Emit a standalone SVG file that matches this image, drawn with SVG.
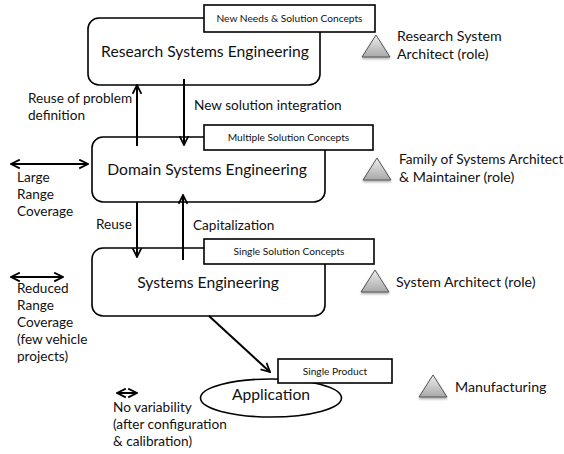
<svg xmlns="http://www.w3.org/2000/svg" width="564" height="454" viewBox="0 0 564 454">
  <defs>
    <style>
      text { font-family: Lato, "Liberation Sans", sans-serif; fill: #111; }
      .box { fill: #fff; stroke: #000; stroke-width: 1.6; }
      .lbl { fill: #fff; stroke: #000; stroke-width: 1.6; }
      .main { font-size: 15.7px; text-anchor: middle; }
      .small { font-size: 10.2px; text-anchor: middle; }
      .side { font-size: 13.6px; }
      .role { font-size: 14.2px; }
      .role-n { font-size: 13.7px; }
      .con { stroke: #000; stroke-width: 2; fill: none; }
      .tri { fill: url(#tg); stroke: #555; stroke-width: 1; filter: url(#sh); }
    </style>
    <linearGradient id="tg" x1="0" y1="0" x2="0" y2="1">
      <stop offset="0" stop-color="#eeeeee"/>
      <stop offset="1" stop-color="#a8a8a8"/>
    </linearGradient>
    <filter id="sh" x="-20%" y="-20%" width="140%" height="150%">
      <feDropShadow dx="0" dy="1.5" stdDeviation="1" flood-color="#000" flood-opacity="0.35"/>
    </filter>
    <marker id="ah" viewBox="0 0 10 10" refX="9" refY="5" markerWidth="5.5" markerHeight="5.5" orient="auto-start-reverse" markerUnits="strokeWidth">
      <path d="M1,1 L9,5 L1,9" fill="none" stroke="#000" stroke-width="1.6"/>
    </marker>
  </defs>

  <g id="research">
    <rect class="box" x="88" y="18" width="232" height="67" rx="11"/>
    <text class="main" x="205" y="57">Research Systems Engineering</text>
  </g>
  <g id="research-label">
    <rect class="lbl" x="204" y="5" width="171" height="27"/>
    <text class="small" x="289.5" y="22">New Needs &amp; Solution Concepts</text>
  </g>

  <g id="domain">
    <rect class="box" x="92" y="137" width="233" height="65" rx="11"/>
    <text class="main" x="207" y="175">Domain Systems Engineering</text>
  </g>
  <g id="domain-label">
    <rect class="lbl" x="204" y="125" width="169" height="25"/>
    <text class="small" x="288.5" y="141">Multiple Solution Concepts</text>
  </g>

  <g id="systems">
    <rect class="box" x="92" y="248" width="233" height="68" rx="11"/>
    <text class="main" x="208" y="288">Systems Engineering</text>
  </g>
  <g id="systems-label">
    <rect class="lbl" x="204" y="239" width="170" height="25"/>
    <text class="small" x="289" y="255">Single Solution Concepts</text>
  </g>

  <g id="application">
    <ellipse class="box" cx="271" cy="398" rx="70.5" ry="19"/>
    <text class="main" x="271" y="400">Application</text>
  </g>
  <g id="application-label">
    <rect class="lbl" x="278" y="359" width="114" height="24"/>
    <text class="small" x="335" y="375">Single Product</text>
  </g>

  <g id="connectors">
    <line class="con" x1="137" y1="146" x2="137" y2="85" marker-end="url(#ah)"/>
    <line class="con" x1="184" y1="79" x2="184" y2="145" marker-end="url(#ah)"/>
    <line class="con" x1="137" y1="202" x2="137" y2="257" marker-end="url(#ah)"/>
    <line class="con" x1="183" y1="260" x2="183" y2="195" marker-end="url(#ah)"/>
    <line class="con" x1="209" y1="316" x2="270" y2="372" marker-end="url(#ah)"/>
    <line class="con" x1="11" y1="164" x2="88" y2="164" marker-start="url(#ah)" marker-end="url(#ah)"/>
    <line class="con" x1="11" y1="277" x2="63" y2="277" marker-start="url(#ah)" marker-end="url(#ah)"/>
    <line class="con" x1="117" y1="393" x2="137" y2="393" marker-start="url(#ah)" marker-end="url(#ah)"/>
  </g>

  <g id="connector-labels">
    <text class="side" x="28" y="103">Reuse of problem</text>
    <text class="side" x="28" y="120">definition</text>
    <text class="side" x="194" y="110">New solution integration</text>
    <text class="side" x="96" y="229">Reuse</text>
    <text class="side" x="193" y="230">Capitalization</text>
  </g>

  <g id="range-labels">
    <text class="side" x="17" y="182">Large</text>
    <text class="side" x="17" y="199">Range</text>
    <text class="side" x="17" y="216">Coverage</text>
    <text class="side" x="17" y="293">Reduced</text>
    <text class="side" x="17" y="310">Range</text>
    <text class="side" x="17" y="327">Coverage</text>
    <text class="side" x="17" y="344">(few vehicle</text>
    <text class="side" x="17" y="361">projects)</text>
    <text class="side" x="113" y="412">No variability</text>
    <text class="side" x="113" y="429">(after configuration</text>
    <text class="side" x="113" y="446">&amp; calibration)</text>
  </g>

  <g id="role-research">
    <polygon class="tri" points="376,35 362,57 390,57"/>
    <text class="role" x="397" y="41">Research System</text>
    <text class="role" x="397" y="59">Architect (role)</text>
  </g>
  <g id="role-family">
    <polygon class="tri" points="377,158 363,180 391,180"/>
    <text class="role-n" x="399" y="164">Family of Systems Architect</text>
    <text class="role" x="399" y="182">&amp; Maintainer (role)</text>
  </g>
  <g id="role-system">
    <polygon class="tri" points="375,270 361,292 389,292"/>
    <text class="role" x="396" y="287">System Architect (role)</text>
  </g>
  <g id="role-manufacturing">
    <polygon class="tri" points="433,375 419,397 447,397"/>
    <text class="role" x="455" y="392">Manufacturing</text>
  </g>
</svg>
